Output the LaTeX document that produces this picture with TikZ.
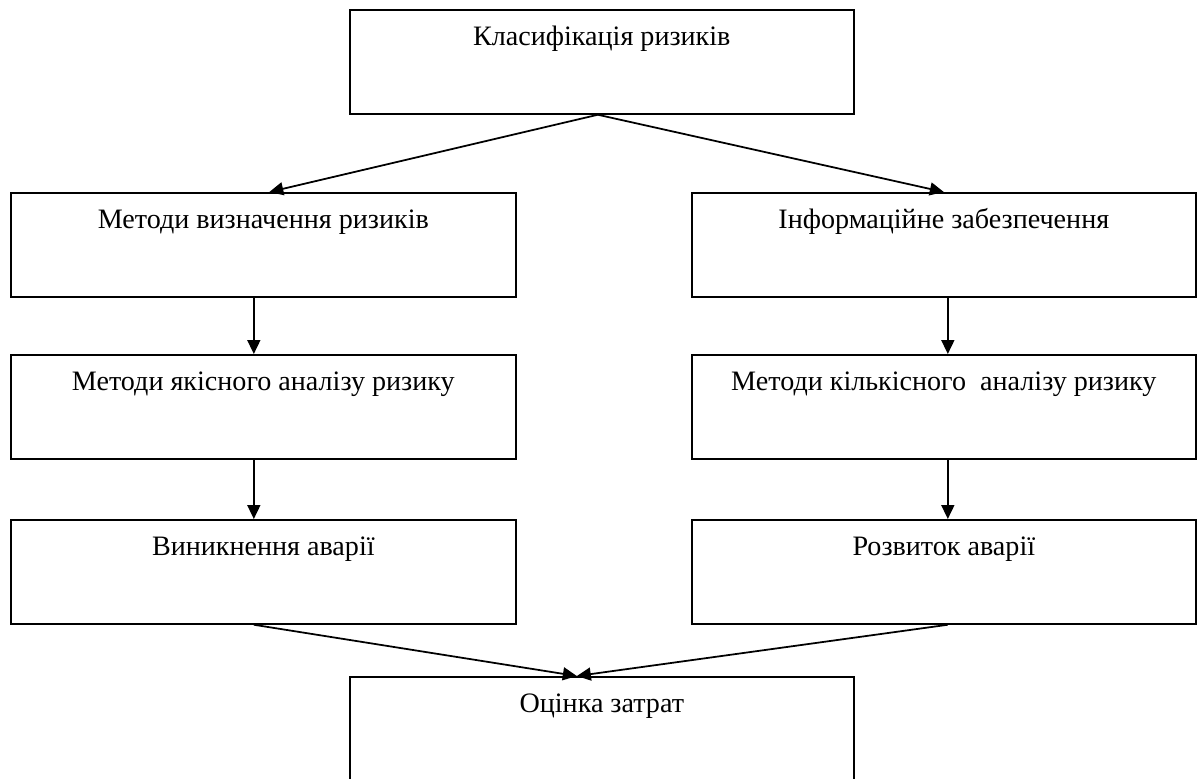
\documentclass[tikz,border=0pt]{standalone}
\usepackage{fontspec}
\setmainfont{Liberation Serif}
\usetikzlibrary{arrows.meta}
\tikzset{
    box/.style={draw, line width=1pt, anchor=north west, inner sep=0pt,
        minimum width=10.08cm, text height=0.72cm, text depth=1.36cm,
        font=\fontsize{16}{19}\selectfont},
    flow/.style={line width=1pt, -{Triangle[length=0.28cm, width=0.26cm]}}
}
\begin{document}
\begin{tikzpicture}[x=0.02cm, y=-0.02cm]
        \useasboundingbox (0,0) rectangle (1197,778);
        \clip (0,0) rectangle (1197,778);
        \node[box] (top) at (349,9) {Класифікація ризиків};
        \node[box, minimum width=10.1cm] (l1) at (10,192) {Методи визначення ризиків};
        \node[box] (r1) at (691,192) {Інформаційне забезпечення};
        \node[box, minimum width=10.1cm] (l2) at (10,354) {Методи якісного аналізу ризику};
        \node[box] (r2) at (691,354) {Методи кількісного \ аналізу ризику};
        \node[box, minimum width=10.1cm] (l3) at (10,519) {Виникнення аварії};
        \node[box] (r3) at (691,519) {Розвиток аварії};
        \node[box, text depth=1.6cm] (bot) at (349,676) {Оцінка затрат};
        \draw[flow] ([xshift=-0.08cm]top.south) -- ([xshift=0.12cm]l1.north);
        \draw[flow] ([xshift=-0.08cm]top.south) -- (r1.north);
        \draw[flow] ([xshift=-0.19cm]l1.south) -- ([xshift=-0.19cm]l2.north);
        \draw[flow] ([xshift=0.08cm]r1.south) -- ([xshift=0.08cm]r2.north);
        \draw[flow] ([xshift=-0.19cm]l2.south) -- ([xshift=-0.19cm]l3.north);
        \draw[flow] ([xshift=0.08cm]r2.south) -- ([xshift=0.08cm]r3.north);
        \draw[flow] ([xshift=-0.19cm]l3.south) -- ([xshift=-0.5cm]bot.north);
        \draw[flow] ([xshift=0.08cm]r3.south) -- ([xshift=-0.5cm]bot.north);
\end{tikzpicture}
\end{document}
